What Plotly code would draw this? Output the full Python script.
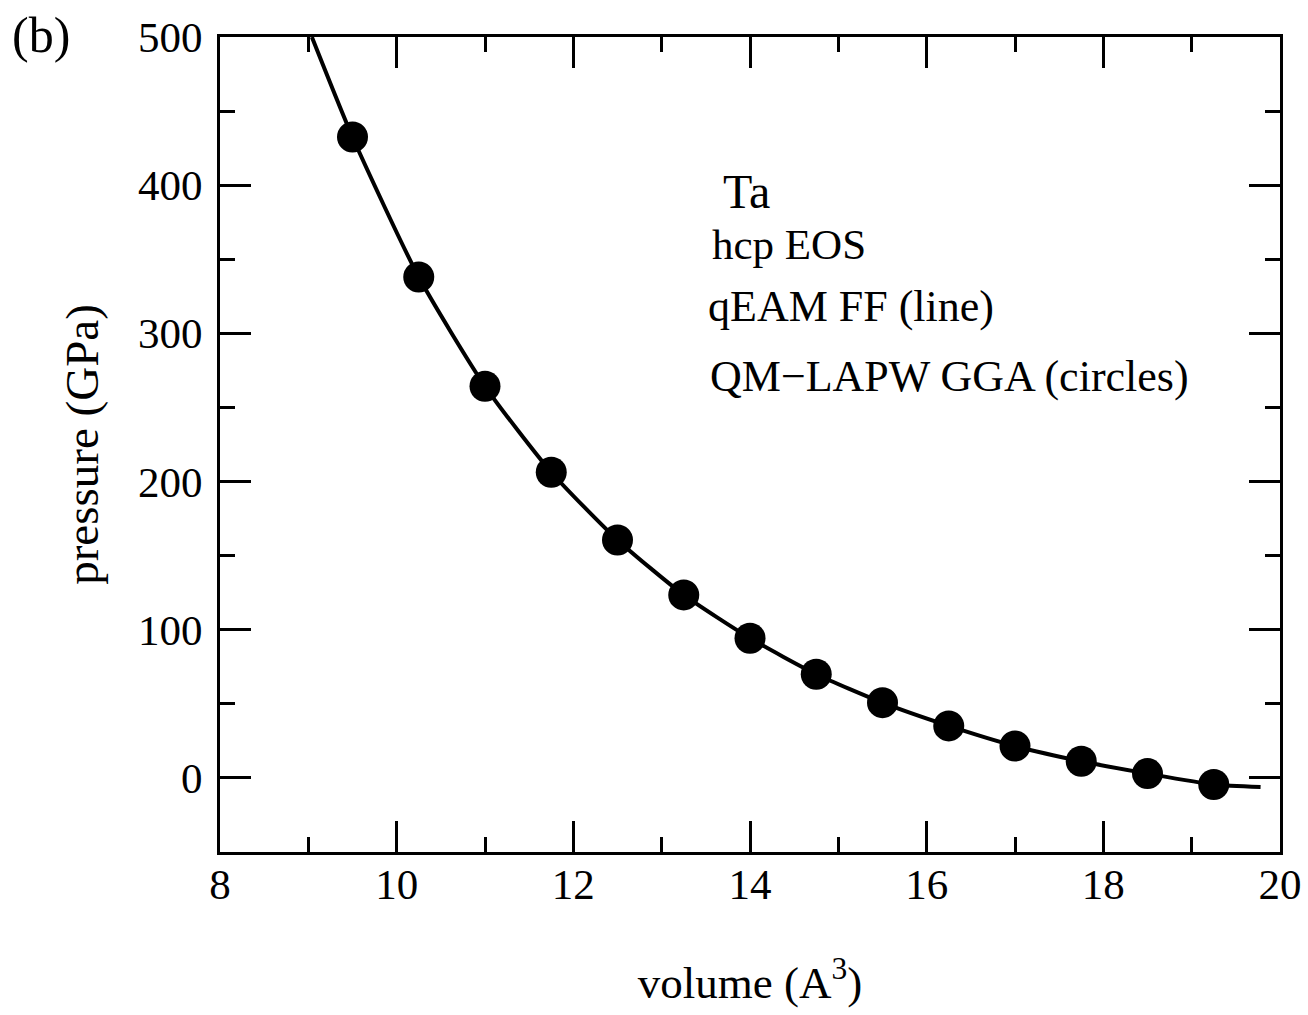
import plotly.graph_objects as go

# QM-LAPW GGA points (circles)
vol_qm = [9.5, 10.25, 11.0, 11.75, 12.5, 13.25, 14.0, 14.75, 15.5, 16.25, 17.0, 17.75, 18.5, 19.25]
p_qm = [432.5, 338, 264.3, 206.3, 160.6, 123.5, 94.3, 70.0, 50.8, 35.1, 21.5, 11.2, 2.9, -4.5]

# qEAM FF curve (line)
vol_ff = [9.04, 9.5, 10.25, 11.0, 11.75, 12.5, 13.25, 14.0, 14.75, 15.5, 16.25, 17.0, 17.75, 18.5, 19.25, 19.78]
p_ff = [500, 432.5, 338, 264.3, 206.3, 160.6, 123.5, 94.3, 70.0, 50.8, 35.1, 21.5, 11.2, 2.9, -4.5, -6.2]

x_ticks = [8, 10, 12, 14, 16, 18, 20]
y_ticks = [0, 100, 200, 300, 400, 500]

FONT = "Liberation Serif, Times New Roman, serif"

fig = go.Figure()
fig.add_trace(go.Scatter(x=vol_ff, y=p_ff, mode="lines",
                         line=dict(color="black", width=4, shape="spline", smoothing=0.6),
                         showlegend=False, hoverinfo="skip"))
fig.add_trace(go.Scatter(x=vol_qm, y=p_qm, mode="markers",
                         marker=dict(color="black", size=31, line=dict(width=0)),
                         showlegend=False))

axis_common = dict(showline=True, linecolor="black", linewidth=3, mirror="ticks",
                   ticks="inside", ticklen=31, tickwidth=3, tickcolor="black",
                   showgrid=False, zeroline=False, automargin=False,
                   tickfont=dict(family=FONT, size=43, color="black"))

fig.update_xaxes(range=[8, 20], tickvals=x_ticks, ticktext=[str(v) for v in x_ticks],
                 ticklabelstandoff=-8,
                 minor=dict(dtick=1, ticks="inside", ticklen=15, tickwidth=3, tickcolor="black", showgrid=False),
                 title=dict(text="volume (A<sup>3</sup>)", font=dict(family=FONT, size=45, color="black"), standoff=60),
                 **axis_common)
fig.update_yaxes(range=[-50, 500], tickvals=y_ticks, ticktext=[str(v) for v in y_ticks],
                 ticklabelstandoff=6,
                 minor=dict(dtick=50, ticks="inside", ticklen=15, tickwidth=3, tickcolor="black", showgrid=False),
                 title=dict(text="pressure (GPa)", font=dict(family=FONT, size=47, color="black"), standoff=25),
                 **axis_common)

ann = [
    dict(text="Ta", x=13.67, y=396, size=48),
    dict(text="hcp EOS", x=13.55, y=360, size=43),
    dict(text="qEAM FF (line)", x=13.50, y=318, size=44),
    dict(text="QM\u2212LAPW GGA (circles)", x=13.52, y=271, size=44),
]
for a in ann:
    fig.add_annotation(x=a["x"], y=a["y"], xref="x", yref="y", text=a["text"], showarrow=False,
                       xanchor="left", yanchor="middle",
                       font=dict(family=FONT, size=a["size"], color="black"))

fig.add_annotation(x=-0.198, y=1.002, xref="paper", yref="paper", text="(b)", showarrow=False,
                   xanchor="left", yanchor="middle", font=dict(family=FONT, size=50, color="black"))

fig.update_layout(width=1308, height=1015, margin=dict(l=220, r=28, t=37, b=163),
                  plot_bgcolor="white", paper_bgcolor="white", showlegend=False)

fig.write_html("out.html", config={"displayModeBar": False},
               post_script="document.body.style.margin='0';document.body.style.overflow='hidden';")
